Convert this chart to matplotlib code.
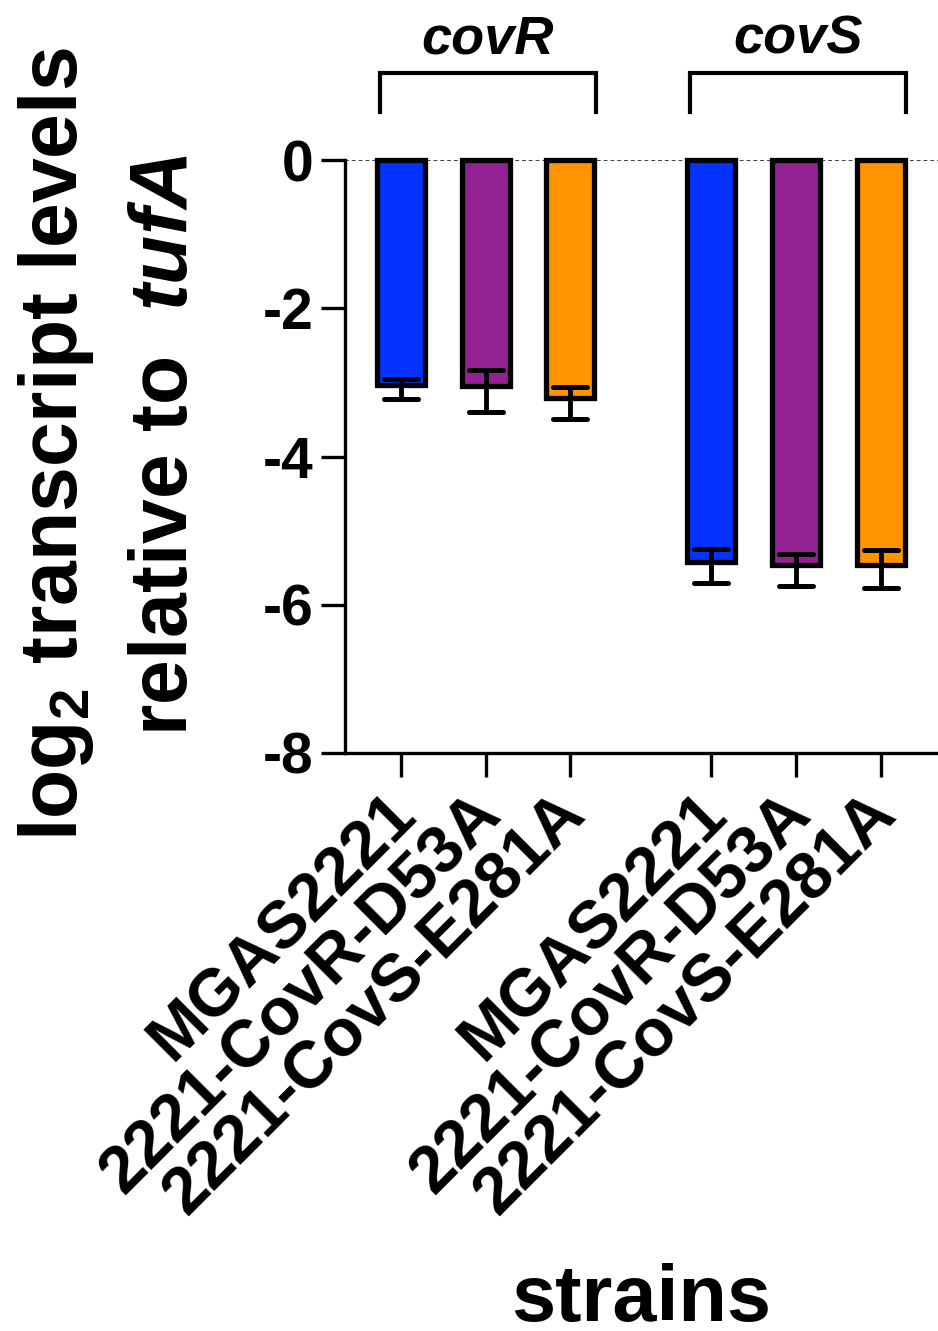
import matplotlib
matplotlib.use('Agg')
import matplotlib.pyplot as plt
from matplotlib.markers import MarkerStyle
from matplotlib.transforms import ScaledTranslation

plt.rcParams.update({
    'font.family': 'Liberation Sans',
    'font.weight': 'bold',
    'axes.unicode_minus': False,
    'mathtext.fontset': 'custom',
    'mathtext.rm': 'Liberation Sans:bold',
    'mathtext.bf': 'Liberation Sans:bold',
    'mathtext.it': 'Liberation Sans:bold:italic',
})

# data
genes = ['covR', 'covS']
strains = ['MGAS2221', '2221-CovR-D53A', '2221-CovS-E281A']
colors = ['#0433FF', '#942192', '#FF9300']
means = [-3.04, -3.05, -3.21, -5.42, -5.47, -5.46]
err_up = [0.08, 0.22, 0.15, 0.17, 0.16, 0.20]
err_down = [0.18, 0.35, 0.29, 0.29, 0.28, 0.31]
yticks = [0, -2, -4, -6, -8]

group_gap = 3.66
xpos = [g * group_gap + i for g in range(len(genes)) for i in range(len(strains))]
bar_colors = colors * len(genes)
tick_labels = strains * len(genes)

fig = plt.figure(figsize=(9.38, 13.31), dpi=100)
ax = fig.add_axes([345/938, 1 - 753/1331, (938 - 345)/938, (753 - 160)/1331])

ax.axhline(0, color='0.25', lw=1.4, ls=(0, (2, 1.5)), zorder=1)
ax.bar(xpos, means, width=0.566, color=bar_colors, edgecolor='black',
       linewidth=3.8, zorder=2, clip_on=False)
eb = ax.errorbar(xpos, means, yerr=[err_down, err_up], fmt='none', ecolor='black',
                 elinewidth=3.5, capsize=12, capthick=3.6, zorder=3)
for cl in eb[1]:
    cl.set_marker(MarkerStyle('_', capstyle='round'))

ax.set_xlim(-0.658, 6.335)
ax.set_ylim(-8, 0)
ax.set_yticks(yticks)
ax.set_yticklabels([str(t) for t in yticks])
ax.set_xticks(xpos)
ax.set_xticklabels(tick_labels, rotation=45, ha='right', va='center',
                   rotation_mode='anchor')

for side in ['top', 'right']:
    ax.spines[side].set_visible(False)
for side in ['left', 'bottom']:
    ax.spines[side].set_linewidth(2.4)
ax.tick_params(axis='y', length=17, width=2.4, pad=6, labelsize=41)
ax.tick_params(axis='x', length=17, width=2.4, pad=20, labelsize=48)
for lab in ax.get_xticklabels():
    lab.set_transform(lab.get_transform() + ScaledTranslation(0.06, 0, fig.dpi_scale_trans))

# group brackets
for g, gene in enumerate(genes):
    x0 = g * group_gap - 0.25
    x1 = g * group_gap + len(strains) - 1 + 0.30
    ax.plot([x0, x0, x1, x1], [0.65, 1.17, 1.17, 0.65], color='black', lw=3,
            clip_on=False, solid_joinstyle='miter')
    ax.text((x0 + x1) / 2, 1.44, gene, style='italic', weight='bold', fontsize=39,
            ha='center', va='baseline', clip_on=False)

fig.text(56/938, 1 - 444/1331, 'log$_\\mathbf{2}$ transcript levels', rotation=90,
         ha='center', va='center', fontsize=58)
fig.text(166/938, 1 - 445/1331, 'relative to  $\\mathit{tufA}$', rotation=90,
         ha='center', va='center', fontsize=58)
fig.text(641/938, (1331 - 1321)/1331, 'strains', ha='center', va='baseline',
         fontsize=57)

fig.savefig('out.png', dpi=100, facecolor='w')
